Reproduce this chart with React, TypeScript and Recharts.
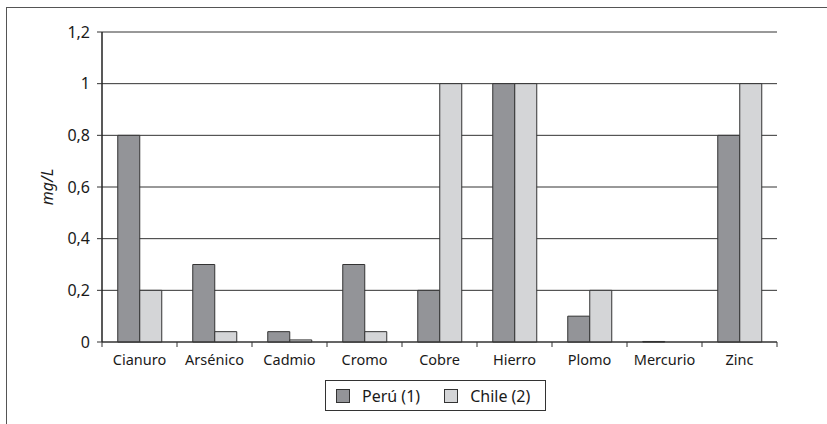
import React from 'react';
import { BarChart, Bar, XAxis, YAxis, CartesianGrid } from 'recharts';

const categories = ['Cianuro', 'Arsénico', 'Cadmio', 'Cromo', 'Cobre', 'Hierro', 'Plomo', 'Mercurio', 'Zinc'];
const peru = [0.8, 0.3, 0.04, 0.3, 0.2, 1, 0.1, 0.002, 0.8];
const chile = [0.2, 0.04, 0.008, 0.04, 1, 1, 0.2, 0, 1];
const yTicks = [0, 0.2, 0.4, 0.6, 0.8, 1, 1.2];
const seriesNames = ['Perú (1)', 'Chile (2)'];
const seriesColors = ['#939498', '#d4d5d7'];

const data = categories.map((c, i) => ({ name: c, peru: peru[i], chile: chile[i] }));

const FONT = "'Noto Sans', sans-serif";

const XTick = (props: any) => {
  const { x, y, payload, index, width, visibleTicksCount } = props;
  const band = width / visibleTicksCount;
  const axisY = y - 10;
  return (
    <g>
      <line x1={x - band / 2} x2={x - band / 2} y1={axisY} y2={axisY + 5} stroke="#333" />
      {index === visibleTicksCount - 1 && (
        <line x1={x + band / 2} x2={x + band / 2} y1={axisY} y2={axisY + 5} stroke="#333" />
      )}
      <text x={x} y={y} dy={13} textAnchor="middle" fill="#1a1a1a" fontSize={14.5} fontFamily={FONT}>
        {payload.value}
      </text>
    </g>
  );
};

const YLabel = (props: any) => {
  const { viewBox } = props;
  const cx = viewBox.x + 5;
  const cy = viewBox.y + viewBox.height / 2;
  return (
    <text x={cx} y={cy} transform={`rotate(-90, ${cx}, ${cy})`} textAnchor="middle" dominantBaseline="central"
      fontSize={16} fontStyle="italic" fill="#1a1a1a" fontFamily={FONT}>
      mg/L
    </text>
  );
};

export default function App() {
  return (
    <div style={{ position: 'fixed', left: 0, top: 0, width: 827, height: 424, overflow: 'hidden', background: '#fff' }}>
      <div style={{ position: 'absolute', left: 6, top: 7, width: 900, height: 500, border: '1px solid #555' }} />
      <div style={{ position: 'absolute', left: 0, top: 0 }}>
        <BarChart width={827} height={424} data={data} margin={{ top: 32, right: 50, bottom: 52, left: 42 }}
          barCategoryGap="21%" barGap={0}>
          <CartesianGrid vertical={false} stroke="#333" strokeWidth={1} horizontalValues={yTicks} />
          <XAxis dataKey="name" height={30} tickLine={false} tickSize={5} tickMargin={5}
            axisLine={{ stroke: '#333' }} tick={<XTick />} interval={0} />
          <YAxis width={60} domain={[0, 1.2]} ticks={yTicks} tickSize={5} tickMargin={7}
            tickFormatter={(v: number) => String(v).replace('.', ',')}
            axisLine={{ stroke: '#222', strokeWidth: 1.5 }} tickLine={{ stroke: '#333' }}
            tick={{ fontSize: 16, fill: '#1a1a1a', fontFamily: FONT }}
            label={<YLabel />} />
          <YAxis yAxisId="r" orientation="right" width={0} tick={false} tickLine={false}
            axisLine={{ stroke: '#777', strokeWidth: 1.5 }} />
          <Bar dataKey="peru" name={seriesNames[0]} fill={seriesColors[0]} stroke="#333" strokeWidth={1} isAnimationActive={false} />
          <Bar dataKey="chile" name={seriesNames[1]} fill={seriesColors[1]} stroke="#333" strokeWidth={1} isAnimationActive={false} />
        </BarChart>
      </div>
      <div style={{ position: 'absolute', left: 325, top: 380, width: 221, height: 31, border: '1px solid #333',
        boxSizing: 'border-box', display: 'flex', alignItems: 'center', fontFamily: FONT, fontSize: 16, color: '#1a1a1a' }}>
        {seriesNames.map((n, i) => (
          <div key={n} style={{ display: 'flex', alignItems: 'center', marginLeft: i === 0 ? 10 : 24 }}>
            <span style={{ display: 'inline-block', width: 12, height: 12, background: seriesColors[i], border: '1px solid #333', marginRight: 12 }} />
            <span>{n}</span>
          </div>
        ))}
      </div>
    </div>
  );
}
